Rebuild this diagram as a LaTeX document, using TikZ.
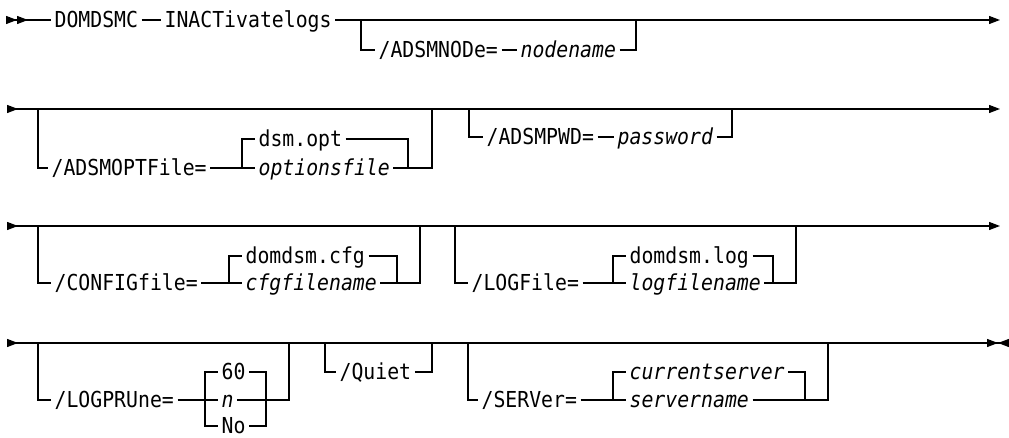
\documentclass[tikz,border=0pt]{standalone}
\usepackage{fontspec}
\setmainfont{DejaVu Sans Mono}[FakeStretch=0.9]
\usetikzlibrary{arrows.meta}
\tikzset{tri/.tip={Triangle[length=5.5pt,width=4pt]}}

\begin{document}
\begin{tikzpicture}[x=0.5pt,y=-0.5pt,line width=0.65pt,
        lbl/.style={inner xsep=1.5pt,inner ysep=0pt,text height=8pt,text depth=0pt,anchor=west,font=\fontsize{11pt}{13pt}\selectfont},
        var/.style={lbl,font=\fontsize{11pt}{13pt}\selectfont\itshape}]
            \useasboundingbox (0,0) rectangle (1009,438);
            % row 1
            \coordinate (s1) at (6,20);
            \coordinate (e1) at (1000,20);
            \node[lbl] (dsmc) at (51,20) {DOMDSMC};
            \node[lbl] (inact) at (161,20) {INACTivatelogs};
            \draw[{tri[reversed]tri[reversed]}-] (s1) -- (dsmc.west);
            \draw (dsmc.east) -- (inact.west);
            \draw[-tri] (inact.east) -- (e1);
            \coordinate (nda) at (361,20);
            \coordinate (ndb) at (636,20);
            \node[lbl] (adsmnode) at (375,50) {/ADSMNODe=};
            \node[var] (nodename) at (517,50) {nodename};
            \draw (nda) |- (adsmnode.west);
            \draw (adsmnode.east) -- (nodename.west);
            \draw (nodename.east) -| (ndb);
            % row 2
            \coordinate (s2) at (7,109);
            \coordinate (e2) at (1000,109);
            \draw[{tri[reversed]}-tri] (s2) -- (e2);
            \coordinate (ofa) at (38,109);
            \coordinate (ofb) at (432,109);
            \coordinate (ofsplit) at (242,168);
            \coordinate (ofjoin) at (408,168);
            \node[lbl] (optfile) at (48,168) {/ADSMOPTFile=};
            \node[lbl] (dsmopt) at (255,139) {dsm.opt};
            \node[var] (optionsfile) at (255,168) {optionsfile};
            \draw (ofa) |- (optfile.west);
            \draw (optfile.east) -- (optionsfile.west);
            \draw (ofsplit) |- (dsmopt.west);
            \draw (dsmopt.east) -| (ofjoin);
            \draw (optionsfile.east) -| (ofb);
            \coordinate (pwa) at (469,109);
            \coordinate (pwb) at (732,109);
            \node[lbl] (adsmpwd) at (483,137) {/ADSMPWD=};
            \node[var] (password) at (614,137) {password};
            \draw (pwa) |- (adsmpwd.west);
            \draw (adsmpwd.east) -- (password.west);
            \draw (password.east) -| (pwb);
            % row 3
            \coordinate (s3) at (7,226);
            \coordinate (e3) at (1000,226);
            \draw[{tri[reversed]}-tri] (s3) -- (e3);
            \coordinate (cfa) at (38,226);
            \coordinate (cfb) at (420,226);
            \coordinate (cfsplit) at (229,283);
            \coordinate (cfjoin) at (397,283);
            \node[lbl] (config) at (51,283) {/CONFIGfile=};
            \node[lbl] (domcfg) at (242,256) {domdsm.cfg};
            \node[var] (cfgname) at (242,283) {cfgfilename};
            \draw (cfa) |- (config.west);
            \draw (config.east) -- (cfgname.west);
            \draw (cfsplit) |- (domcfg.west);
            \draw (domcfg.east) -| (cfjoin);
            \draw (cfgname.east) -| (cfb);
            \coordinate (lga) at (455,226);
            \coordinate (lgb) at (796,226);
            \coordinate (lgsplit) at (613,283);
            \coordinate (lgjoin) at (773,283);
            \node[lbl] (logfile) at (468,283) {/LOGFile=};
            \node[lbl] (domlog) at (626,256) {domdsm.log};
            \node[var] (logname) at (626,283) {logfilename};
            \draw (lga) |- (logfile.west);
            \draw (logfile.east) -- (logname.west);
            \draw (lgsplit) |- (domlog.west);
            \draw (domlog.east) -| (lgjoin);
            \draw (logname.east) -| (lgb);
            % row 4
            \coordinate (s4) at (7,343);
            \coordinate (e4) at (1009,343);
            \draw[{tri[reversed]}-{tri[] tri[reversed]}] (s4) -- (e4);
            \coordinate (lpa) at (38,343);
            \coordinate (lpb) at (289,343);
            \coordinate (lpsplit) at (205,400);
            \coordinate (lpjoin) at (266,400);
            \node[lbl] (logprune) at (51,400) {/LOGPRUne=};
            \node[lbl] (p60) at (218,372) {60};
            \node[var] (pn) at (218,400) {n};
            \node[lbl] (pno) at (218,426) {No};
            \draw (lpa) |- (logprune.west);
            \draw (logprune.east) -- (pn.west);
            \draw (lpsplit) |- (p60.west);
            \draw (lpsplit) |- (pno.west);
            \draw (p60.east) -| (lpjoin) |- (pno.east);
            \draw (pn.east) -| (lpb);
            \coordinate (qa) at (325,343);
            \coordinate (qb) at (432,343);
            \node[lbl] (quiet) at (336,372) {/Quiet};
            \draw (qa) |- (quiet.west);
            \draw (quiet.east) -| (qb);
            \coordinate (sva) at (468,343);
            \coordinate (svb) at (828,343);
            \coordinate (svsplit) at (613,400);
            \coordinate (svjoin) at (805,400);
            \node[lbl] (server) at (478,400) {/SERVer=};
            \node[var] (cursrv) at (626,372) {currentserver};
            \node[var] (srvname) at (626,400) {servername};
            \draw (sva) |- (server.west);
            \draw (server.east) -- (srvname.west);
            \draw (svsplit) |- (cursrv.west);
            \draw (cursrv.east) -| (svjoin);
            \draw (srvname.east) -| (svb);
        \end{tikzpicture}
\end{document}
